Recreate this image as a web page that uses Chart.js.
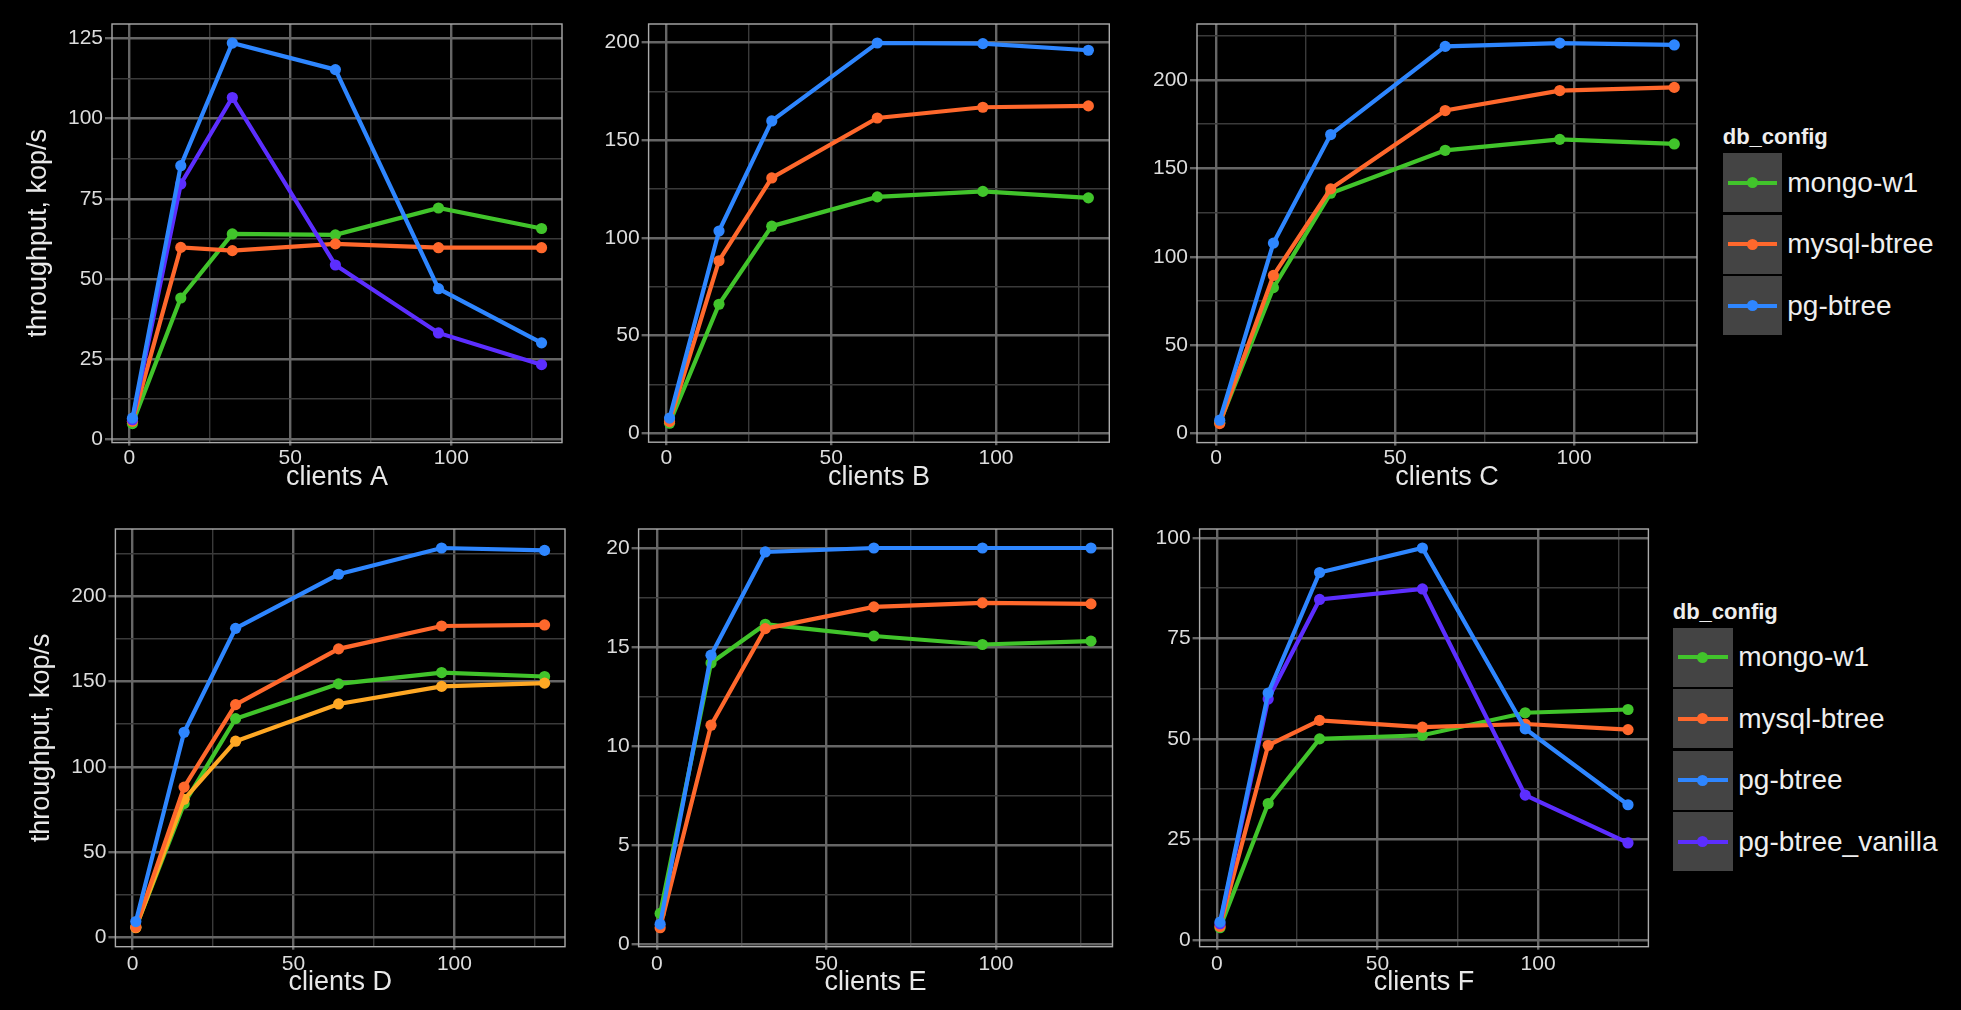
<!DOCTYPE html>
<html>
<head>
<meta charset="utf-8">
<script src="https://cdn.jsdelivr.net/npm/chart.js@4.4.1/dist/chart.umd.min.js"></script>
<style>
html,body{margin:0;padding:0;background:#000;width:1961px;height:1010px;overflow:hidden;font-family:"Liberation Sans",Arial,sans-serif;}
canvas{position:absolute;}
.leg-title{position:absolute;color:#eeeeee;font-weight:bold;font-size:22px;line-height:22px;white-space:nowrap;}
.key{position:absolute;background:#444444;}
.key .ln{position:absolute;left:5px;right:5px;top:50%;height:4px;margin-top:-2px;}
.key .dt{position:absolute;left:50%;top:50%;width:11px;height:11px;margin:-5.5px 0 0 -5.5px;border-radius:50%;}
.lab{position:absolute;color:#eeeeee;font-size:28px;white-space:nowrap;display:flex;align-items:center;}
</style>
</head>
<body>
<canvas id="cA"></canvas>
<canvas id="cB"></canvas>
<canvas id="cC"></canvas>
<canvas id="cD"></canvas>
<canvas id="cE"></canvas>
<canvas id="cF"></canvas>
<div id="legends"></div>
<script>
// ---------------- DATA ----------------
const clients = [1, 16, 32, 64, 96, 128];
const xTicks = [0, 25, 50, 75, 100, 125];
const xTickLabels = [0, 50, 100];

// Panel A
const aMongo   = [4.8, 44.0, 64.0, 63.7, 72.1, 65.7];
const aMysql   = [5.5, 59.8, 58.8, 60.9, 59.7, 59.7];
const aPg      = [6.5, 85.3, 123.6, 115.3, 46.9, 30.0];
const aVanilla = [6.0, 79.6, 106.6, 54.3, 33.1, 23.2];
// Panel B
const bMongo = [5.1, 66.0, 106.0, 121.0, 123.8, 120.5];
const bMysql = [5.9, 88.3, 130.7, 161.4, 166.9, 167.6];
const bPg    = [7.7, 103.5, 159.9, 199.8, 199.5, 196.1];
// Panel C
const cMongo = [6.0, 82.5, 135.9, 160.2, 166.4, 163.8];
const cMysql = [5.6, 89.4, 138.4, 182.7, 194.0, 195.8];
const cPg    = [7.5, 107.7, 169.1, 219.0, 220.9, 219.8];
// Panel D
const dMongo = [6.0, 78.4, 128.2, 148.6, 155.2, 152.9];
const dMysql = [6.1, 88.1, 136.4, 169.1, 182.5, 183.1];
const dPg    = [9.3, 120.2, 181.1, 212.8, 228.2, 226.8];
const dOther = [5.7, 80.9, 115.0, 136.8, 147.1, 149.0];
// Panel E
const eMongo = [1.56, 14.2, 16.15, 15.56, 15.13, 15.3];
const eMysql = [0.84, 11.06, 15.93, 17.03, 17.23, 17.18];
const ePg    = [1.02, 14.59, 19.8, 20.0, 20.0, 20.0];
// Panel F
const fMongo   = [3.0, 33.9, 50.0, 50.9, 56.5, 57.3];
const fMysql   = [3.3, 48.4, 54.6, 52.9, 53.7, 52.3];
const fPg      = [4.4, 61.4, 91.4, 97.5, 52.5, 33.6];
const fVanilla = [4.0, 59.9, 84.7, 87.3, 36.0, 24.1];

// Y tick labels (major) and minor grid values
const yMajorA = [0, 25, 50, 75, 100, 125];
const yMinorA = [12.5, 37.5, 62.5, 87.5, 112.5];
const yMajorB = [0, 50, 100, 150, 200];
const yMinorB = [25, 75, 125, 175];
const yMajorC = [0, 50, 100, 150, 200];
const yMinorC = [25, 75, 125, 175, 225];
const yMajorD = [0, 50, 100, 150, 200];
const yMinorD = [25, 75, 125, 175, 225];
const yMajorE = [0, 5, 10, 15, 20];
const yMinorE = [2.5, 7.5, 12.5, 17.5];
const yMajorF = [0, 25, 50, 75, 100];
const yMinorF = [12.5, 37.5, 62.5, 87.5];

const legendTopNames = ['mongo-w1', 'mysql-btree', 'pg-btree'];
const legendBottomNames = ['mongo-w1', 'mysql-btree', 'pg-btree', 'pg-btree_vanilla'];

// ---------------- STYLE ----------------
const colors = {
  'mongo-w1': '#41c42b',
  'mysql-btree': '#ff682c',
  'pg-btree': '#2e86ff',
  'pg-btree_vanilla': '#5c2eff',
  'other': '#ffa824'
};
const drawOrder = {'pg-btree': 0, 'pg-btree_vanilla': 1, 'mysql-btree': 2, 'other': 3, 'mongo-w1': 4};
const FONT = '"Liberation Sans", Arial, sans-serif';
const MAJOR = '#666666', MINOR = '#3a3a3a';

const panels = [
  {id: 'cA', xTitle: 'clients A', yTitle: 'throughput, kop/s', yMajor: yMajorA, yMinor: yMinorA,
   series: [['mongo-w1', aMongo], ['mysql-btree', aMysql], ['pg-btree', aPg], ['pg-btree_vanilla', aVanilla]],
   box: {x0: 0, y0: 0, w: 580, h: 500, left: 112, right: 562, top: 24, bottom: 442.6, yTitlePad: 22.3, tickPad: 0, xTitlePad: 6.3}},
  {id: 'cB', xTitle: 'clients B', yTitle: null, yMajor: yMajorB, yMinor: yMinorB,
   series: [['mongo-w1', bMongo], ['mysql-btree', bMysql], ['pg-btree', bPg]],
   box: {x0: 580, y0: 0, w: 550, h: 500, left: 648.6, right: 1109.3, top: 24, bottom: 442.2, tickPad: 0, xTitlePad: 6.3}},
  {id: 'cC', xTitle: 'clients C', yTitle: null, yMajor: yMajorC, yMinor: yMinorC,
   series: [['mongo-w1', cMongo], ['mysql-btree', cMysql], ['pg-btree', cPg]],
   box: {x0: 1130, y0: 0, w: 580, h: 500, left: 1197, right: 1697, top: 24, bottom: 442.6, tickPad: 0, xTitlePad: 6.3}},
  {id: 'cD', xTitle: 'clients D', yTitle: 'throughput, kop/s', yMajor: yMajorD, yMinor: yMinorD,
   series: [['mongo-w1', dMongo], ['mysql-btree', dMysql], ['pg-btree', dPg], ['other', dOther]],
   box: {x0: 0, y0: 505, w: 580, h: 505, left: 115.4, right: 565, top: 529, bottom: 946.7, yTitlePad: 25.7, tickPad: 2, xTitlePad: 11.3}},
  {id: 'cE', xTitle: 'clients E', yTitle: null, yMajor: yMajorE, yMinor: yMinorE,
   series: [['mongo-w1', eMongo], ['mysql-btree', eMysql], ['pg-btree', ePg]],
   box: {x0: 580, y0: 505, w: 550, h: 505, left: 638.6, right: 1112.5, top: 529, bottom: 946.7, tickPad: 2, xTitlePad: 11.3}},
  {id: 'cF', xTitle: 'clients F', yTitle: null, yMajor: yMajorF, yMinor: yMinorF,
   series: [['mongo-w1', fMongo], ['mysql-btree', fMysql], ['pg-btree', fPg], ['pg-btree_vanilla', fVanilla]],
   box: {x0: 1130, y0: 505, w: 530, h: 505, left: 1199.6, right: 1648.4, top: 529, bottom: 946.7, tickPad: 2, xTitlePad: 11.3}}
];

// ggplot-like 5% expansion of the data range
function expand(vals) {
  const mn = Math.min(...vals), mx = Math.max(...vals);
  const d = (mx - mn) * 0.05;
  return [mn - d, mx + d];
}

const panelBorder = {
  id: 'panelBorder',
  afterDatasetsDraw(chart) {
    const {ctx, chartArea: a} = chart;
    ctx.save();
    ctx.strokeStyle = '#ababab';
    ctx.lineWidth = 1.4;
    ctx.strokeRect(a.left, a.top, a.right - a.left, a.bottom - a.top);
    ctx.restore();
  }
};

Chart.defaults.font.family = FONT;

panels.forEach(p => {
  const b = p.box;
  const cv = document.getElementById(p.id);
  cv.width = b.w; cv.height = b.h;
  cv.style.left = b.x0 + 'px'; cv.style.top = b.y0 + 'px';
  cv.style.width = b.w + 'px'; cv.style.height = b.h + 'px';

  const allY = [].concat(...p.series.map(s => s[1]));
  const [yMin, yMax] = expand(allY);
  const [xMin, xMax] = expand(clients);
  const yTicks = p.yMajor.concat(p.yMinor).filter(v => v >= yMin && v <= yMax).sort((a, b2) => a - b2);
  const xT = xTicks.filter(v => v >= xMin && v <= xMax);

  const datasets = p.series.map(([name, vals]) => ({
    label: name,
    data: clients.map((c, i) => ({x: c, y: vals[i]})),
    borderColor: colors[name],
    backgroundColor: colors[name],
    pointBackgroundColor: colors[name],
    pointBorderWidth: 0,
    pointRadius: 5.6,
    borderWidth: 4.2,
    tension: 0,
    order: drawOrder[name]
  }));

  new Chart(cv, {
    type: 'line',
    data: {datasets},
    plugins: [panelBorder],
    options: {
      responsive: false,
      animation: false,
      devicePixelRatio: 1,
      layout: {padding: {left: 0, top: b.top - b.y0, right: b.x0 + b.w - b.right, bottom: 0}},
      plugins: {legend: {display: false}, tooltip: {enabled: false}},
      scales: {
        x: {
          type: 'linear', min: xMin, max: xMax,
          afterBuildTicks: s => { s.ticks = xT.map(v => ({value: v})); },
          afterFit: s => { s.height = b.y0 + b.h - b.bottom; },
          border: {display: false},
          grid: {
            color: c => xTickLabels.includes(c.tick.value) ? MAJOR : MINOR,
            lineWidth: c => xTickLabels.includes(c.tick.value) ? 2.4 : 1.4,
            tickColor: c => xTickLabels.includes(c.tick.value) ? MAJOR : 'rgba(0,0,0,0)',
            tickLength: 3
          },
          ticks: {
            autoSkip: false, maxRotation: 0, minRotation: 0,
            padding: b.tickPad, color: '#dddddd',
            font: {size: 21, family: FONT},
            callback: v => xTickLabels.includes(v) ? String(v) : ''
          },
          title: {display: true, text: p.xTitle, color: '#e8e8e8',
                  font: {size: 27, family: FONT}, padding: {top: 0, bottom: b.xTitlePad}}
        },
        y: {
          type: 'linear', min: yMin, max: yMax,
          afterBuildTicks: s => { s.ticks = yTicks.map(v => ({value: v})); },
          afterFit: s => { s.width = b.left - b.x0; },
          border: {display: false},
          grid: {
            color: c => p.yMajor.includes(c.tick.value) ? MAJOR : MINOR,
            lineWidth: c => p.yMajor.includes(c.tick.value) ? 2.4 : 1.4,
            tickColor: c => p.yMajor.includes(c.tick.value) ? MAJOR : 'rgba(0,0,0,0)',
            tickLength: 7
          },
          ticks: {
            autoSkip: false, padding: 2, color: '#dddddd',
            font: {size: 21, family: FONT},
            callback: v => p.yMajor.includes(v) ? String(v) : ''
          },
          title: {display: !!p.yTitle, text: p.yTitle || '', color: '#e8e8e8',
                  font: {size: 27, family: FONT}, padding: {top: b.yTitlePad || 0, bottom: 0}}
        }
      }
    }
  });
});

// ---------------- LEGENDS (HTML) ----------------
const legendLayouts = [
  {names: legendTopNames, titleX: 1722.7, titleTop: 125.7, keyX: 1722.7, keyY: [153.3, 214.7, 276], keyW: 59.3, keyH: 59, labX: 1787.3},
  {names: legendBottomNames, titleX: 1672.7, titleTop: 601.4, keyX: 1673.3, keyY: [627.7, 689, 750.7, 812.3], keyW: 59.4, keyH: 59, labX: 1738.3}
];
const host = document.getElementById('legends');
legendLayouts.forEach(L => {
  const t = document.createElement('div');
  t.className = 'leg-title';
  t.textContent = 'db_config';
  t.style.left = L.titleX + 'px'; t.style.top = L.titleTop + 'px';
  host.appendChild(t);
  L.names.forEach((n, i) => {
    const k = document.createElement('div');
    k.className = 'key';
    k.style.left = L.keyX + 'px'; k.style.top = L.keyY[i] + 'px';
    k.style.width = L.keyW + 'px'; k.style.height = L.keyH + 'px';
    const ln = document.createElement('div'); ln.className = 'ln'; ln.style.background = colors[n];
    const dt = document.createElement('div'); dt.className = 'dt'; dt.style.background = colors[n];
    k.appendChild(ln); k.appendChild(dt);
    host.appendChild(k);
    const lb = document.createElement('div');
    lb.className = 'lab';
    lb.textContent = n;
    lb.style.left = L.labX + 'px'; lb.style.top = L.keyY[i] + 'px'; lb.style.height = L.keyH + 'px';
    host.appendChild(lb);
  });
});
</script>
</body>
</html>
